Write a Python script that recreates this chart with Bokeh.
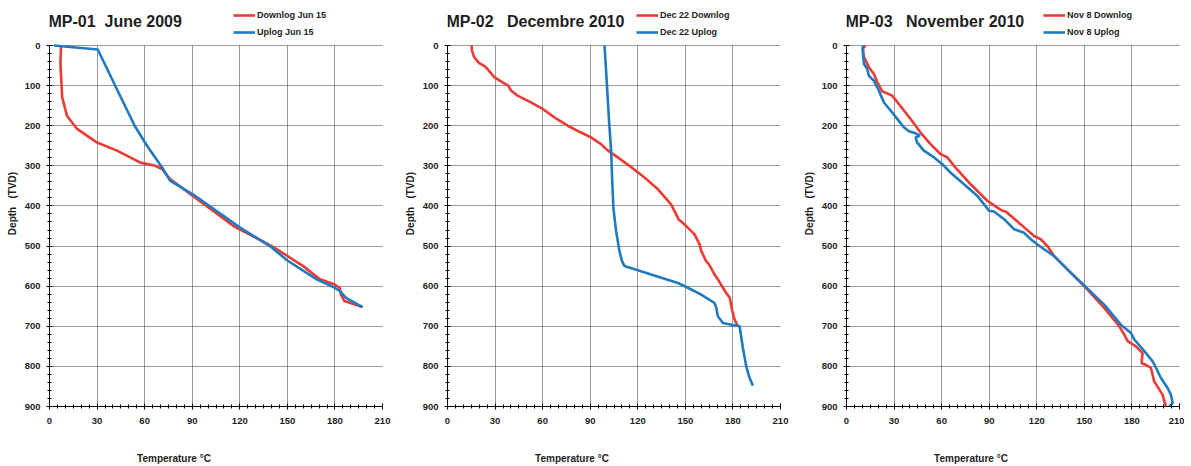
from bokeh.plotting import figure
from bokeh.models import Range1d, Label, Legend, LegendItem, FixedTicker
from bokeh.layouts import row
from bokeh.embed import file_html
from bokeh.resources import INLINE

# ---------------- data ----------------
titles = ["MP-01\u00a0\u00a0June 2009", "MP-02\u00a0\u00a0\u00a0Decembre 2010", "MP-03\u00a0\u00a0\u00a0November 2010"]
down_labels = ["Downlog Jun 15", "Dec 22 Downlog", "Nov 8 Downlog"]
up_labels = ["Uplog Jun 15", "Dec 22 Uplog", "Nov 8 Uplog"]
x_ticks = [0, 30, 60, 90, 120, 150, 180, 210]
y_ticks = [0, 100, 200, 300, 400, 500, 600, 700, 800, 900]

mp01_down_temp = [7.3, 6.9, 8.0, 11.0, 17.4, 30.0, 42.6, 57.3, 66.7, 71.0, 76.0, 90.4, 116.0, 141.0, 160.0, 170.6, 179.9, 183.0, 183.8, 186.0, 197.4]
mp01_down_depth = [0, 46, 129, 175, 208, 242, 262, 292, 300, 308, 333, 375, 450, 502, 550, 583, 596, 604, 621, 637, 652]
mp01_up_temp = [2.7, 30.4, 53.7, 61.5, 71.0, 76.0, 90.4, 120.2, 139.0, 150.0, 168.5, 179.0, 183.0, 187.0, 197.4]
mp01_up_depth = [0, 10, 200, 250, 304, 337, 371, 454, 500, 536, 583, 602, 612, 629, 652]

mp02_down_temp = [15.2, 15.4, 16.8, 20.0, 23.6, 25.7, 29.5, 34.7, 38.3, 40.0, 44.2, 52.6, 60.0, 67.4, 75.8, 84.2, 90.5, 96.8, 100.0, 103.0, 107.4, 114.7, 124.2, 132.6, 141.0, 145.7, 149.5, 155.8, 159.0, 160.0, 163.0, 165.0, 168.4, 170.5, 173.7, 175.8, 178.0, 179.6, 181.0, 183.2]
mp02_down_depth = [0, 12, 29, 44, 52, 61, 79, 92, 100, 112, 125, 142, 158, 179, 200, 217, 229, 246, 258, 267, 279, 300, 329, 358, 396, 433, 446, 471, 496, 512, 537, 546, 571, 583, 604, 617, 629, 662, 683, 700]
mp02_up_temp = [99.0, 100.0, 101.0, 102.0, 103.2, 103.8, 104.6, 106.3, 108.4, 110.0, 111.6, 118.0, 128.4, 145.3, 151.6, 160.0, 168.4, 169.5, 170.5, 173.7, 179.0, 184.2, 186.3, 188.4, 190.5, 192.6]
mp02_up_depth = [0, 62, 129, 196, 262, 329, 404, 462, 512, 537, 550, 558, 571, 592, 604, 621, 642, 654, 675, 692, 696, 700, 754, 800, 829, 848]

mp03_down_temp = [12.0, 10.3, 11.0, 14.1, 17.3, 19.4, 22.5, 28.8, 33.0, 40.4, 46.7, 53.0, 59.4, 63.6, 67.8, 78.3, 88.8, 95.2, 98.3, 100.4, 109.9, 118.3, 122.5, 126.7, 130.9, 141.5, 151.0, 162.5, 172.0, 175.2, 177.3, 182.5, 186.7, 186.1, 188.8, 192.0, 194.0, 197.3, 199.4, 200.4, 201.5]
mp03_down_depth = [0, 8, 29, 54, 71, 92, 114, 125, 146, 183, 217, 246, 271, 279, 300, 346, 387, 404, 412, 414, 446, 475, 483, 500, 525, 567, 604, 654, 700, 721, 737, 750, 767, 792, 796, 804, 837, 858, 871, 887, 900]
mp03_up_temp = [10.3, 10.3, 11.0, 13.0, 14.1, 17.3, 20.4, 23.6, 27.8, 32.0, 36.2, 39.4, 43.6, 46.3, 43.6, 44.6, 48.8, 55.2, 60.4, 65.7, 74.1, 82.5, 89.9, 93.0, 99.4, 105.7, 112.0, 116.2, 120.4, 124.6, 131.0, 141.5, 150.3, 162.5, 173.0, 179.4, 181.5, 187.8, 193.0, 195.2, 198.3, 202.5, 204.6, 205.7, 203.6]
mp03_up_depth = [0, 17, 46, 58, 75, 88, 112, 142, 162, 183, 204, 214, 219, 225, 229, 242, 262, 279, 296, 317, 346, 375, 412, 414, 433, 458, 467, 483, 496, 508, 525, 567, 600, 646, 696, 717, 733, 762, 787, 804, 829, 854, 871, 892, 900]

# ---------------- styling ----------------
RED = "#EC3A34"
BLUE = "#1F7ABF"
FONT = "'Liberation Sans Narrow', 'Liberation Sans', Arial, sans-serif"
TXT = "#1e1e1e"

# (fig width, right border, legend x offset)
panels = [
    (titles[0], down_labels[0], up_labels[0], mp01_down_temp, mp01_down_depth, mp01_up_temp, mp01_up_depth, 398, 16, 184),
    (titles[1], down_labels[1], up_labels[1], mp02_down_temp, mp02_down_depth, mp02_up_temp, mp02_up_depth, 399, 17, 189),
    (titles[2], down_labels[2], up_labels[2], mp03_down_temp, mp03_down_depth, mp03_up_temp, mp03_up_depth, 387, 5, 197),
]

H = 466
BOTTOM = 60
TOP_PAD_PX = 45          # header band inside the frame (title + legend)
FRAME_H = H - BOTTOM     # 406 px frame, of which 361 px for 0..900
pad_units = TOP_PAD_PX * 900.0 / (FRAME_H - TOP_PAD_PX)

figs = []
for (ttl, dl, ul, dt, dd, ut, ud, W, br, lx) in panels:
    p = figure(width=W, height=H, title=None,
               x_range=Range1d(0, 210), y_range=Range1d(900, -pad_units),
               output_backend="svg", toolbar_location=None,
               min_border_left=49, min_border_right=br,
               min_border_top=0, min_border_bottom=BOTTOM,
               background_fill_color="white", border_fill_color="white")
    p.outline_line_color = None

    # grid
    p.xgrid.ticker = FixedTicker(ticks=x_ticks)
    p.ygrid.ticker = FixedTicker(ticks=y_ticks)
    p.xgrid.cross_bounds = (0, 900)
    p.xgrid.grid_line_color = "#9a9a9a"
    p.xgrid.grid_line_width = 1
    p.ygrid.grid_line_color = "#333333"
    p.ygrid.grid_line_dash = "1 1"
    p.ygrid.grid_line_width = 1

    # axes
    p.xaxis.ticker = FixedTicker(ticks=x_ticks, minor_ticks=list(range(0, 211, 5)))
    p.yaxis.ticker = FixedTicker(ticks=y_ticks, minor_ticks=list(range(0, 901, 20)))
    p.yaxis.bounds = (0, 900)
    for ax in (p.xaxis[0], p.yaxis[0]):
        ax.axis_line_color = "black"
        ax.axis_line_width = 1
        ax.major_tick_line_color = "black"
        ax.minor_tick_line_color = "black"
        ax.major_tick_in = 3
        ax.major_tick_out = 3
        ax.minor_tick_in = 2
        ax.minor_tick_out = 2
        ax.major_label_text_font = FONT
        ax.major_label_text_font_size = "9.5px"
        ax.major_label_text_font_style = "bold"
        ax.major_label_text_color = TXT
    p.xaxis.major_label_standoff = 8
    p.yaxis.major_label_standoff = 6
    p.yaxis.axis_label = "Depth\u00a0\u00a0\u00a0(TVD)"
    p.yaxis.axis_label_text_font = FONT
    p.yaxis.axis_label_text_font_size = "10px"
    p.yaxis.axis_label_text_font_style = "bold"
    p.yaxis.axis_label_text_color = TXT
    p.yaxis.axis_label_standoff = 4

    r_down = p.line(dt, dd, line_color=RED, line_width=2.6)
    r_up = p.line(ut, ud, line_color=BLUE, line_width=2.6)

    # chart title inside the header band
    p.add_layout(Label(x=-1, y=FRAME_H - 21, x_units="screen", y_units="screen",
                       text=ttl, text_align="left", text_baseline="middle",
                       text_font=FONT, text_font_size="16px", text_font_style="bold",
                       text_color=TXT))

    # x axis title (left of centre, like the source), in the bottom side panel
    p.add_layout(Label(x=124.5, y=-21, x_units="screen", y_units="screen",
                       text="Temperature °C", text_align="center", text_baseline="middle",
                       text_font=FONT, text_font_size="10px", text_font_style="bold",
                       text_color=TXT), "below")

    leg = Legend(items=[LegendItem(label=dl, renderers=[r_down]),
                        LegendItem(label=ul, renderers=[r_up])],
                 location=(lx, FRAME_H - 39), orientation="vertical")
    leg.border_line_color = None
    leg.background_fill_alpha = 0
    leg.padding = 0
    leg.margin = 0
    leg.spacing = 3
    leg.glyph_width = 22
    leg.glyph_height = 14
    leg.label_height = 14
    leg.label_standoff = 2
    leg.label_text_font = FONT
    leg.label_text_font_size = "9px"
    leg.label_text_font_style = "bold"
    leg.label_text_color = TXT
    p.add_layout(leg)
    figs.append(p)

layout = row(*figs)
open("out.html", "w").write(file_html(layout, INLINE))
